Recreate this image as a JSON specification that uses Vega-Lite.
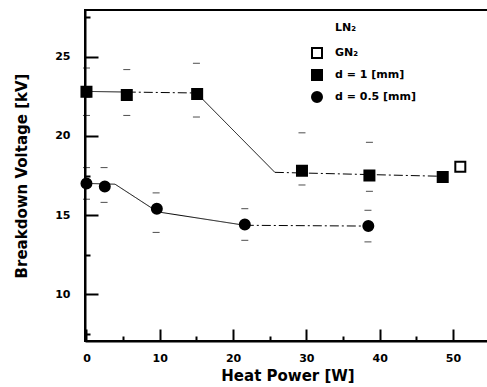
{
  "$schema": "https://vega.github.io/schema/vega-lite/v6.json",
  "width": 405,
  "height": 331,
  "autosize": {"type": "none"},
  "padding": {"left": 85, "top": 10, "right": 0, "bottom": 46},
  "background": "white",
  "config": {
    "view": {"stroke": "black", "strokeWidth": 2},
    "font": "DejaVu Sans",
    "axis": {"grid": false, "domainColor": "black", "tickColor": "black", "labelColor": "black", "titleColor": "black"}
  },
  "datasets": {
    "lines": [
      {"s": "d1a", "st": "solid", "x": 0, "y": 22.82},
      {"s": "d1a", "st": "solid", "x": 5.5, "y": 22.78},
      {"s": "d1b", "st": "dash", "x": 5.5, "y": 22.78},
      {"s": "d1b", "st": "dash", "x": 15, "y": 22.72},
      {"s": "d1c", "st": "solid", "x": 15, "y": 22.72},
      {"s": "d1c", "st": "solid", "x": 25.7, "y": 17.7},
      {"s": "d1d", "st": "dash", "x": 25.7, "y": 17.7},
      {"s": "d1d", "st": "dash", "x": 48.5, "y": 17.45},
      {"s": "d05a", "st": "solid", "x": 0, "y": 17.0},
      {"s": "d05a", "st": "solid", "x": 3.9, "y": 16.95},
      {"s": "d05a", "st": "solid", "x": 9.7, "y": 15.2},
      {"s": "d05a", "st": "solid", "x": 21.6, "y": 14.35},
      {"s": "d05b", "st": "dash", "x": 21.6, "y": 14.35},
      {"s": "d05b", "st": "dash", "x": 38.4, "y": 14.3}
    ],
    "errs": [
      {"x": 0, "y": 24.3}, {"x": 0, "y": 21.3},
      {"x": 5.5, "y": 24.2}, {"x": 5.5, "y": 21.3},
      {"x": 15, "y": 24.6}, {"x": 15, "y": 21.2},
      {"x": 29.4, "y": 20.2}, {"x": 29.4, "y": 16.9},
      {"x": 38.6, "y": 19.6}, {"x": 38.6, "y": 16.5},
      {"x": 0, "y": 18.0}, {"x": 0, "y": 16.0},
      {"x": 2.4, "y": 18.0}, {"x": 2.4, "y": 15.8},
      {"x": 9.5, "y": 16.4}, {"x": 9.5, "y": 13.9},
      {"x": 21.6, "y": 15.4}, {"x": 21.6, "y": 13.4},
      {"x": 38.4, "y": 15.3}, {"x": 38.4, "y": 13.3}
    ],
    "points": [
      {"series": "GN₂", "x": 51.0, "y": 18.05},
      {"series": "d = 1 [mm]", "x": 0, "y": 22.8},
      {"series": "d = 1 [mm]", "x": 5.5, "y": 22.6},
      {"series": "d = 1 [mm]", "x": 15.1, "y": 22.65},
      {"series": "d = 1 [mm]", "x": 29.4, "y": 17.8},
      {"series": "d = 1 [mm]", "x": 38.6, "y": 17.5},
      {"series": "d = 1 [mm]", "x": 48.6, "y": 17.4},
      {"series": "d = 0.5 [mm]", "x": 0, "y": 17.0},
      {"series": "d = 0.5 [mm]", "x": 2.5, "y": 16.8},
      {"series": "d = 0.5 [mm]", "x": 9.6, "y": 15.4},
      {"series": "d = 0.5 [mm]", "x": 21.6, "y": 14.4},
      {"series": "d = 0.5 [mm]", "x": 38.45, "y": 14.3}
    ],
    "title": [{"label": "LN₂", "x": 33.9, "y": 26.8}]
  },
  "layer": [
    {
      "data": {"name": "lines"},
      "mark": {"type": "line", "color": "black", "strokeWidth": 1},
      "encoding": {
        "x": {"field": "x", "type": "quantitative", "scale": {"domain": [-0.2, 55.05], "nice": false, "zero": false},
          "axis": {"orient": "bottom", "values": [0, 10, 20, 30, 40, 50], "format": "d", "ticks": false, "domainWidth": 2,
            "labelFont": "DejaVu Sans", "labelFontSize": 11, "labelFontWeight": "bold", "labelPadding": 11,
            "title": "Heat Power [W]", "titleFont": "DejaVu Sans", "titleFontSize": 15, "titleFontWeight": "bold", "titlePadding": 5}},
        "y": {"field": "y", "type": "quantitative", "scale": {"domain": [7.03, 27.97], "nice": false, "zero": false},
          "axis": {"orient": "left", "values": [10, 15, 20, 25], "format": "d", "ticks": false, "domainWidth": 2,
            "labelFont": "DejaVu Sans", "labelFontSize": 11, "labelFontWeight": "bold", "labelPadding": 15,
            "title": "Breakdown Voltage [kV]", "titleFont": "DejaVu Sans", "titleFontSize": 15, "titleFontWeight": "bold", "titlePadding": 25}},
        "detail": {"field": "s"},
        "strokeDash": {"field": "st", "type": "nominal", "scale": {"domain": ["solid", "dash"], "range": [[1, 0], [9, 3, 2, 3]]}, "legend": null}
      }
    },
    {
      "data": {"name": "errs"},
      "mark": {"type": "tick", "orient": "horizontal", "color": "black", "size": 7, "thickness": 1},
      "encoding": {
        "x": {"field": "x", "type": "quantitative",
          "axis": {"orient": "bottom", "values": [0, 10, 20, 30, 40, 50], "labels": false, "domain": false, "tickSize": -12, "tickWidth": 2, "title": null}},
        "y": {"field": "y", "type": "quantitative",
          "axis": {"orient": "left", "values": [10, 15, 20, 25], "labels": false, "domain": false, "tickSize": -13, "tickWidth": 2, "title": null}}
      }
    },
    {
      "data": {"name": "points"},
      "mark": {"type": "point", "filled": true, "strokeWidth": 2, "size": 100, "opacity": 1},
      "encoding": {
        "x": {"field": "x", "type": "quantitative",
          "axis": {"orient": "bottom", "values": [5, 15, 25, 35, 45], "labels": false, "domain": false, "tickSize": -5, "tickWidth": 2, "title": null}},
        "y": {"field": "y", "type": "quantitative",
          "axis": {"orient": "left", "values": [7.5, 12.5, 17.5, 22.5, 27.5], "labels": false, "domain": false, "tickSize": -5, "tickWidth": 2, "title": null}},
        "shape": {"field": "series", "type": "nominal",
          "scale": {"domain": ["GN₂", "d = 1 [mm]", "d = 0.5 [mm]"], "range": ["square", "square", "circle"]},
          "legend": {"title": null, "orient": "none", "legendX": 226, "legendY": 37, "padding": 0,
            "labelFont": "DejaVu Sans", "labelFontSize": 11, "labelFontWeight": "bold", "labelColor": "black",
            "labelOffset": 12, "rowPadding": 4, "symbolSize": 100, "symbolStrokeWidth": 2}},
        "fill": {"field": "series", "type": "nominal",
          "scale": {"domain": ["GN₂", "d = 1 [mm]", "d = 0.5 [mm]"], "range": ["white", "black", "black"]},
          "legend": {"title": null, "orient": "none", "legendX": 226, "legendY": 37, "padding": 0,
            "labelFont": "DejaVu Sans", "labelFontSize": 11, "labelFontWeight": "bold", "labelColor": "black",
            "labelOffset": 12, "rowPadding": 4, "symbolSize": 100, "symbolStrokeWidth": 2}},
        "stroke": {"field": "series", "type": "nominal",
          "scale": {"domain": ["GN₂", "d = 1 [mm]", "d = 0.5 [mm]"], "range": ["black", "black", "black"]},
          "legend": {"title": null, "orient": "none", "legendX": 226, "legendY": 37, "padding": 0,
            "labelFont": "DejaVu Sans", "labelFontSize": 11, "labelFontWeight": "bold", "labelColor": "black",
            "labelOffset": 12, "rowPadding": 4, "symbolSize": 100, "symbolStrokeWidth": 2}}
      }
    },
    {
      "data": {"name": "title"},
      "mark": {"type": "text", "align": "left", "baseline": "middle", "font": "DejaVu Sans", "fontSize": 11, "fontWeight": "bold", "color": "black"},
      "encoding": {
        "x": {"field": "x", "type": "quantitative", "axis": null},
        "y": {"field": "y", "type": "quantitative", "axis": null},
        "text": {"field": "label"}
      }
    }
  ],
  "resolve": {"axis": {"x": "independent", "y": "independent"}}
}
